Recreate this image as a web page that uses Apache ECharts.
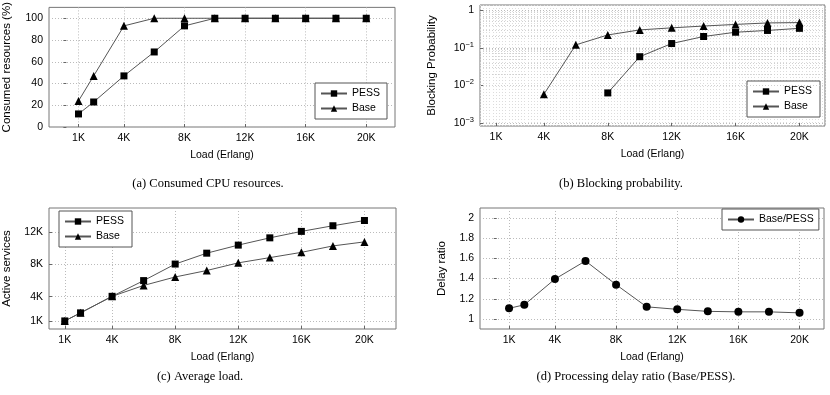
<!DOCTYPE html>
<html><head><meta charset="utf-8">
<script src="https://cdn.jsdelivr.net/npm/echarts@6/dist/echarts.min.js"></script>
<style>html,body{margin:0;padding:0;background:#fff}#c{width:830px;height:395px}</style>
</head><body><div id="c"></div>
<script>
const loads = [1, 2, 4, 6, 8, 10, 12, 14, 16, 18, 20];
const loadTicks = [1, 4, 8, 12, 16, 20];
const cpuPess = [12, 23, 47, 69, 93, 100, 100, 100, 100, 100, 100];
const cpuBase = [24, 47, 93, 100, 100, 100, 100, 100, 100, 100, 100];
const cpuTicks = [0, 20, 40, 60, 80, 100];
const blockPess = [null, null, null, null, 0.0063, 0.058, 0.13, 0.20, 0.26, 0.29, 0.33];
const blockBase = [null, null, 0.0058, 0.12, 0.22, 0.30, 0.34, 0.38, 0.42, 0.46, 0.47];
const blockTicks = [0.001, 0.01, 0.1, 1];
const activePess = [1.0, 2.0, 4.05, 6.0, 8.05, 9.4, 10.4, 11.3, 12.1, 12.8, 13.45];
const activeBase = [1.0, 2.0, 4.05, 5.4, 6.45, 7.25, 8.2, 8.85, 9.5, 10.3, 10.8];
const activeTicks = [1, 4, 8, 12];
const delayRatio = [1.105, 1.14, 1.395, 1.575, 1.34, 1.12, 1.095, 1.075, 1.07, 1.07, 1.06];
const delayTicks = [1, 1.2, 1.4, 1.6, 1.8, 2];

const pairs = (ys) => loads.map((x, i) => [x, ys[i]]).filter(p => p[1] !== null);
const FONT = 'Liberation Sans';
const TICK_FS = 10.5;
const gridLine = {show: true, lineStyle: {color: '#bbb', width: 1, type: [1, 2]}};

function xAxis(gi, min, max) {
  return {
    gridIndex: gi, type: 'value', min: min, max: max,
    axisLine: {show: false},
    axisTick: {show: true, inside: true, length: 3, customValues: loadTicks, lineStyle: {color: '#666'}},
    axisLabel: {customValues: loadTicks, formatter: v => v + 'K', fontSize: TICK_FS, color: '#000', margin: 6, fontFamily: FONT},
    splitLine: gridLine,
    name: 'Load (Erlang)', nameLocation: 'middle', nameGap: 23,
    nameTextStyle: {fontSize: 10.5, color: '#000', fontFamily: FONT}
  };
}
function yAxis(gi, min, max, ticks, fmt, name, gap) {
  return {
    gridIndex: gi, type: 'value', min: min, max: max,
    axisLine: {show: false},
    axisTick: {show: true, inside: true, length: 3, customValues: ticks, lineStyle: {color: '#666'}},
    axisLabel: {customValues: ticks, formatter: fmt, fontSize: TICK_FS, color: '#000', margin: 6, fontFamily: FONT},
    splitLine: gridLine,
    name: name, nameLocation: 'middle', nameGap: gap,
    nameTextStyle: {fontSize: 11.5, color: '#000', fontFamily: FONT}
  };
}
function line(name, gi, data, symbol, size) {
  return {
    type: 'line', name: name, xAxisIndex: gi, yAxisIndex: gi, data: data,
    symbol: symbol, symbolSize: size, showSymbol: true,
    lineStyle: {color: '#555', width: 1}, itemStyle: {color: '#000'},
    emphasis: {disabled: true}, animation: false, z: 5
  };
}
function legend(left, top, names, right) {
  return {
    left: left, top: top, orient: 'vertical', data: names, selectedMode: false,
    itemWidth: 26, itemHeight: 8, itemGap: 4,
    padding: [5, right, 5, 5],
    borderColor: '#555', borderWidth: 1, backgroundColor: '#fff',
    textStyle: {fontSize: 10.5, color: '#000', fontFamily: FONT}
  };
}

const minorLog = [];
[0.001, 0.01, 0.1].forEach(d => { for (let k = 2; k <= 9; k++) minorLog.push({yAxis: d * k}); });

const grids = [
  {left: 48, top: 5, width: 347, height: 122},
  {left: 480, top: 5, width: 345, height: 121},
  {left: 48, top: 208, width: 348, height: 121},
  {left: 480, top: 208, width: 344, height: 121}
].map(g => Object.assign({show: true, borderColor: '#777', borderWidth: 1, backgroundColor: 'transparent'}, g));

const blockPessSeries = line('PESS', 1, pairs(blockPess), 'rect', 7);
blockPessSeries.markLine = {
  silent: true, symbol: 'none', label: {show: false}, animation: false,
  lineStyle: {color: '#d0d0d0', width: 1, type: [1, 2]}, data: minorLog
};

const option = {
  animation: false,
  textStyle: {fontFamily: FONT},
  grid: grids,
  xAxis: [
    xAxis(0, -0.95, 21.9),
    xAxis(1, 0, 21.6),
    xAxis(2, 0, 22),
    xAxis(3, -0.9, 21.6),
    {gridIndex: 1, type: 'value', min: 0, max: 21.6, interval: 0.2, position: 'top',
     axisLine: {show: false}, axisTick: {show: false}, axisLabel: {show: false},
     splitLine: {show: true, lineStyle: {color: '#dcdcdc', width: 1, type: [1, 2]}}}
  ],
  yAxis: [
    yAxis(0, 0, 110, cpuTicks, v => String(v), 'Consumed resources (%)', 36),
    {
      gridIndex: 1, type: 'log', logBase: 10, min: 0.00083, max: 1.38,
      axisLine: {show: false},
      axisTick: {show: true, inside: true, length: 3, lineStyle: {color: '#666'}},
      axisLabel: {
        fontSize: TICK_FS, color: '#000', margin: 6, fontFamily: FONT,
        showMinLabel: false, showMaxLabel: false,
        formatter: v => {
          const l = Math.log10(v), e = Math.round(l);
          if (Math.abs(l - e) > 1e-6) return '';
          if (e === 0) return '1';
          return '10{s|−' + (-e) + '}';
        },
        rich: {s: {fontSize: 7.5, verticalAlign: 'top', padding: [0, 0, 6, 0], fontFamily: FONT, color: '#000'}}
      },
      splitLine: gridLine,
      name: 'Blocking Probability', nameLocation: 'middle', nameGap: 42,
      nameTextStyle: {fontSize: 11.5, color: '#000', fontFamily: FONT}
    },
    yAxis(2, 0, 15, activeTicks, v => v + 'K', 'Active services', 36),
    yAxis(3, 0.9, 2.1, delayTicks, v => String(Math.round(v * 10) / 10), 'Delay ratio', 32)
  ],
  legend: [
    legend(315, 83, ['PESS', 'Base'], 7),
    legend(747, 81, ['PESS', 'Base'], 8),
    legend(59, 211, ['PESS', 'Base'], 8),
    legend(722, 209, ['Base/PESS'], 5)
  ],
  series: [
    line('PESS', 0, pairs(cpuPess), 'rect', 7),
    line('Base', 0, pairs(cpuBase), 'triangle', 8),
    blockPessSeries,
    line('Base', 1, pairs(blockBase), 'triangle', 8),
    line('PESS', 2, pairs(activePess), 'rect', 7),
    line('Base', 2, pairs(activeBase), 'triangle', 8),
    line('Base/PESS', 3, pairs(delayRatio), 'circle', 8)
  ],
  graphic: [
    {type: 'text', x: 208, y: 184, style: {text: '(a) Consumed CPU resources.', fontSize: 12.5, fontFamily: 'Liberation Serif', fill: '#000', align: 'center', verticalAlign: 'middle'}},
    {type: 'text', x: 621, y: 184, style: {text: '(b) Blocking probability.', fontSize: 12.5, fontFamily: 'Liberation Serif', fill: '#000', align: 'center', verticalAlign: 'middle'}},
    {type: 'text', x: 200, y: 377, style: {text: '(c) Average load.', fontSize: 12.5, fontFamily: 'Liberation Serif', fill: '#000', align: 'center', verticalAlign: 'middle'}},
    {type: 'text', x: 636, y: 377, style: {text: '(d) Processing delay ratio (Base/PESS).', fontSize: 12.5, fontFamily: 'Liberation Serif', fill: '#000', align: 'center', verticalAlign: 'middle'}}
  ]
};
const chart = echarts.init(document.getElementById('c'), null, {renderer: 'canvas'});
chart.setOption(option);
</script></body></html>
